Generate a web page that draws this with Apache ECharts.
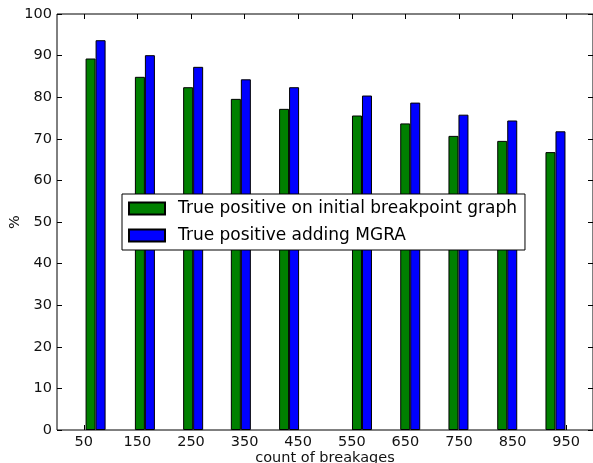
<!DOCTYPE html>
<html>
<head>
<meta charset="utf-8">
<script src="https://cdn.jsdelivr.net/npm/echarts@6/dist/echarts.min.js"></script>
<style>
  html, body { margin: 0; padding: 0; background: #fff; }
  #chart { width: 593px; height: 463px; }
</style>
</head>
<body>
<div id="chart"></div>
<script>
// Tick labels along the breakage-count axis
const tickLabels = ['50', '150', '250', '350', '450', '550', '650', '750', '850', '950'];
// x position (count of breakages) where each green/blue pair meets
const pairPositions = [72, 164, 254, 343, 433, 569, 659, 749, 840, 930];
// True positive rate (%) on the initial breakpoint graph
const initialGraph = [89.3, 84.9, 82.4, 79.6, 77.2, 75.6, 73.7, 70.7, 69.5, 66.8];
// True positive rate (%) after adding MGRA
const withMGRA = [93.7, 90.1, 87.3, 84.3, 82.4, 80.4, 78.7, 75.8, 74.4, 71.8];

const FONT = 'DejaVu Sans';
const chart = echarts.init(document.getElementById('chart'), null, { renderer: 'canvas' });

const pairs = (vals) => pairPositions.map((x, i) => [x, vals[i]]);

chart.setOption({
  animation: false,
  backgroundColor: '#ffffff',
  textStyle: { fontFamily: FONT },
  grid: {
    left: 57, right: 0, top: 14, bottom: 33,
    containLabel: false, outerBoundsMode: 'none',
    show: true, borderColor: '#000', borderWidth: 1, backgroundColor: 'transparent'
  },
  legend: {
    orient: 'vertical',
    left: 122, top: 194,
    padding: [6, 8, 6, 6],
    itemWidth: 36, itemHeight: 12, itemGap: 10,
    backgroundColor: '#fff',
    borderColor: '#000', borderWidth: 1, borderRadius: 0,
    icon: 'rect',
    textStyle: { fontFamily: FONT, fontSize: 17, color: '#000', padding: [0, 0, 0, 8] },
    data: ['True positive on initial breakpoint graph', 'True positive adding MGRA']
  },
  xAxis: [
    {
      type: 'value', min: 0, max: 1000,
      axisLine: { show: false }, axisTick: { show: false },
      axisLabel: { show: false }, splitLine: { show: false }
    },
    {
      type: 'category', position: 'bottom', data: tickLabels,
      boundaryGap: true,
      name: 'count of breakages', nameLocation: 'middle', nameGap: 21, nameMoveOverlap: false,
      nameTextStyle: { fontFamily: FONT, fontSize: 14.5, color: '#111' },
      axisLine: { show: false },
      axisTick: { show: true, inside: true, alignWithLabel: true, length: 5, lineStyle: { color: '#000' } },
      axisLabel: { fontFamily: FONT, fontSize: 14.5, color: '#111', margin: 5 },
      splitLine: { show: false }
    },
    {
      type: 'category', position: 'top', data: tickLabels,
      boundaryGap: true,
      axisLine: { show: false },
      axisTick: { show: true, inside: true, alignWithLabel: true, length: 5, lineStyle: { color: '#000' } },
      axisLabel: { show: false },
      splitLine: { show: false }
    }
  ],
  yAxis: [
    {
      type: 'value', min: 0, max: 100, interval: 10, position: 'left',
      name: '%', nameLocation: 'middle', nameGap: 34, nameRotate: 90, nameMoveOverlap: false,
      nameTextStyle: { fontFamily: FONT, fontSize: 14.5, color: '#111' },
      axisLine: { show: false },
      axisTick: { show: true, inside: true, length: 5, lineStyle: { color: '#000' } },
      axisLabel: { fontFamily: FONT, fontSize: 14.5, color: '#111', margin: 5 },
      splitLine: { show: false }
    },
    {
      type: 'value', min: 0, max: 100, interval: 10, position: 'right',
      axisLine: { show: false },
      axisTick: { show: true, inside: true, length: 5, lineStyle: { color: '#000' } },
      axisLabel: { show: false },
      splitLine: { show: false }
    }
  ],
  series: [
    {
      name: 'True positive on initial breakpoint graph',
      type: 'bar', xAxisIndex: 0, yAxisIndex: 0,
      barWidth: 10, barGap: '0%',
      itemStyle: { color: '#008000', borderColor: '#000', borderWidth: 1 },
      data: pairs(initialGraph)
    },
    {
      name: 'True positive adding MGRA',
      type: 'bar', xAxisIndex: 0, yAxisIndex: 0,
      barWidth: 10, barGap: '0%',
      itemStyle: { color: '#0000ff', borderColor: '#000', borderWidth: 1 },
      data: pairs(withMGRA)
    }
  ]
});
</script>
</body>
</html>
